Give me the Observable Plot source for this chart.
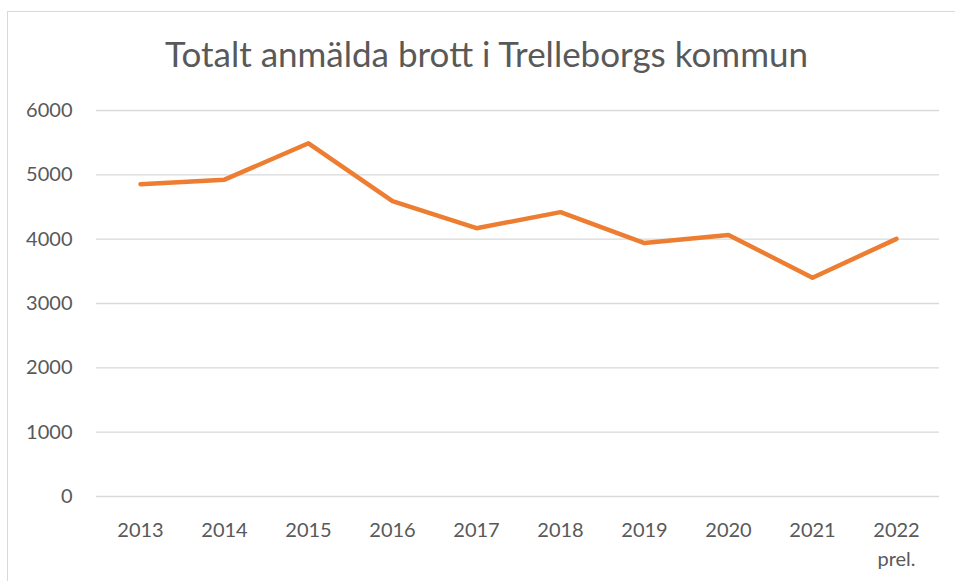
<!DOCTYPE html>
<html>
<head>
<meta charset="utf-8">
<script src="https://cdn.jsdelivr.net/npm/d3@7"></script>
<script src="https://cdn.jsdelivr.net/npm/@observablehq/plot@0.6"></script>
<style>
  html, body { margin: 0; padding: 0; background: #fff; }
  #wrap { position: relative; width: 955px; height: 581px; overflow: hidden; font-family: Lato, "Open Sans", sans-serif; }
  #frame { position: absolute; left: 7px; top: 11px; width: 980px; height: 620px; border: 1.5px solid #d9d9d9; box-sizing: border-box; }
  #title { position: absolute; left: 7px; width: 959px; top: 28px; text-align: center; font-size: 35px; font-weight: 400; color: #595959; line-height: 50px; white-space: nowrap; }
  #chart { position: absolute; left: 0; top: 0; }
</style>
</head>
<body>
<div id="wrap">
  <div id="frame"></div>
  <div id="title">Totalt anmälda brott i Trelleborgs kommun</div>
  <div id="chart"></div>
</div>
<script>
const years = ["2013","2014","2015","2016","2017","2018","2019","2020","2021","2022"];
const xLabels = ["2013","2014","2015","2016","2017","2018","2019","2020","2021","2022\nprel."];
const values = [4855, 4925, 5490, 4590, 4170, 4420, 3940, 4065, 3400, 4005];
const yTicks = [0, 1000, 2000, 3000, 4000, 5000, 6000];

const data = years.map((y, i) => ({year: y, value: values[i]}));

const chart = Plot.plot({
  width: 955,
  height: 581,
  marginLeft: 96,
  marginRight: 16,
  marginTop: 110,
  marginBottom: 85,
  style: { background: "transparent", fontFamily: "Lato, 'Open Sans', sans-serif", color: "#595959" },
  x: { type: "point", domain: years, padding: 0.5, label: null },
  y: { domain: [0, 6000], label: null },
  marks: [
    Plot.gridY(yTicks, { stroke: "#d9d9d9", strokeOpacity: 1, strokeWidth: 1.4 }),
    Plot.axisY(yTicks, { tickSize: 0, tickPadding: 24, fontSize: 20, fill: "#595959", label: null, tickFormat: d => String(d) }),
    Plot.axisX({ tickSize: 0, tickPadding: 20, fontSize: 20, fill: "#595959", lineHeight: 1.45, label: null,
      tickFormat: d => xLabels[years.indexOf(d)] }),
    Plot.line(data, { x: "year", y: "value", stroke: "#ED7D31", strokeWidth: 4.5, strokeLinecap: "round", strokeLinejoin: "round" })
  ]
});
document.getElementById("chart").appendChild(chart);
</script>
</body>
</html>
